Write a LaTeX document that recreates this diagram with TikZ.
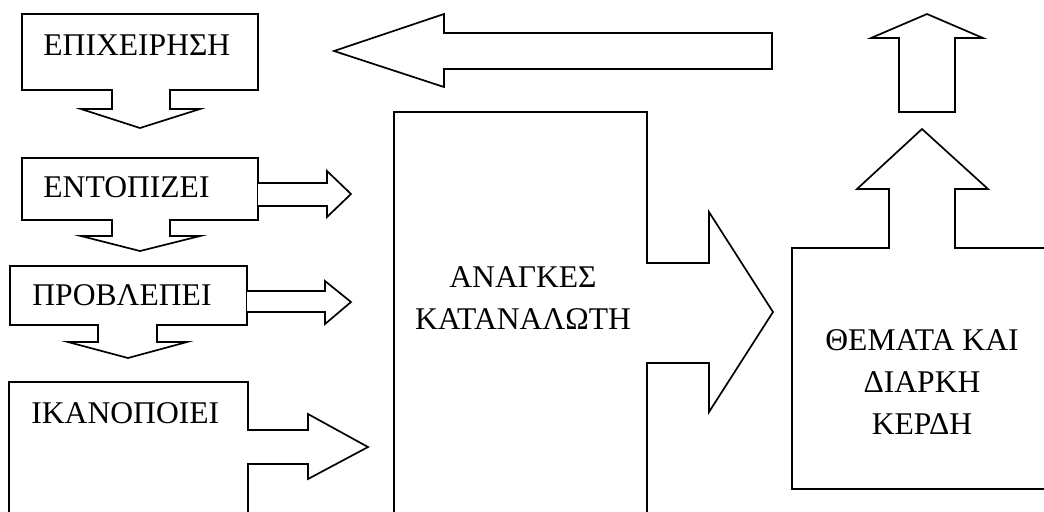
\documentclass[tikz,border=0pt]{standalone}
\usepackage{fontspec}
\setmainfont{Liberation Serif}
\usepackage{tikz}
\usetikzlibrary{positioning}

\begin{document}
\begin{tikzpicture}[
    x=0.5pt, y=-0.5pt,
    block/.style={draw, line width=0.85pt, line join=miter, fill=white},
    word/.style={inner sep=0pt, font=\fontsize{15.8}{21}\selectfont},
    words/.style={word, align=center}
]
\useasboundingbox (0,0) rectangle (1044,511);
\clip (0,0) rectangle (1044,511);

% Left column: callouts pointing down
\draw[block] (22,14) -- (258,14) -- (258,90) -- (170,90) -- (170,109) -- (200,109)
    -- (140,128) -- (81,109) -- (112,109) -- (112,90) -- (22,90) -- cycle;
\node[word, anchor=base west] (epix) at (43,55) {ΕΠΙΧΕΙΡΗΣΗ};

\draw[block] (22,158) -- (258,158) -- (258,220) -- (170,220) -- (170,236) -- (200,236)
    -- (140,251) -- (81,236) -- (112,236) -- (112,220) -- (22,220) -- cycle;
\node[word, anchor=base west] (ento) at (43,197) {ΕΝΤΟΠΙΖΕΙ};
\draw[block] (258,183) -- (327,183) -- (327,171) -- (351,194) -- (327,217) -- (327,206) -- (258,206);

\draw[block] (10,266) -- (247,266) -- (247,325) -- (157,325) -- (157,342) -- (187,342)
    -- (128,358) -- (68,342) -- (98,342) -- (98,325) -- (10,325) -- cycle;
\node[word, anchor=base west] (prov) at (32,305) {ΠΡΟΒΛΕΠΕΙ};
\draw[block] (247,291) -- (325,291) -- (325,281) -- (351,302) -- (325,324) -- (325,312) -- (247,312);

% Bottom left callout pointing right
\draw[block] (9,382) -- (248,382) -- (248,430) -- (308,430) -- (308,414) -- (368,447)
    -- (308,479) -- (308,464) -- (248,464) -- (248,530) -- (9,530) -- cycle;
\node[word, anchor=base west] (ikan) at (31,423) {ΙΚΑΝΟΠΟΙΕΙ};

% Middle callout
\draw[block] (394,112) -- (647,112) -- (647,263) -- (709,263) -- (709,212) -- (773,312)
    -- (709,412) -- (709,363) -- (647,363) -- (647,530) -- (394,530) -- cycle;
\node[words] (anag) at (523,298.5) {ΑΝΑΓΚΕΣ\\ΚΑΤΑΝΑΛΩΤΗ};

% Right callout pointing up
\draw[block] (792,248) -- (889,248) -- (889,189) -- (857,189) -- (922,129) -- (988,189)
    -- (955,189) -- (955,248) -- (1060,248) -- (1060,489) -- (792,489) -- cycle;
\node[words] (thema) at (922,382.5) {ΘΕΜΑΤΑ ΚΑΙ\\ΔΙΑΡΚΗ\\ΚΕΡΔΗ};

% Top arrows
\draw[block] (899,112) -- (899,38) -- (871,38) -- (927,14) -- (983,38) -- (955,38) -- (955,112) -- cycle;
\draw[block] (772,33) -- (444,33) -- (444,14) -- (334,51) -- (444,87) -- (444,69) -- (772,69) -- cycle;

\end{tikzpicture}
\end{document}
